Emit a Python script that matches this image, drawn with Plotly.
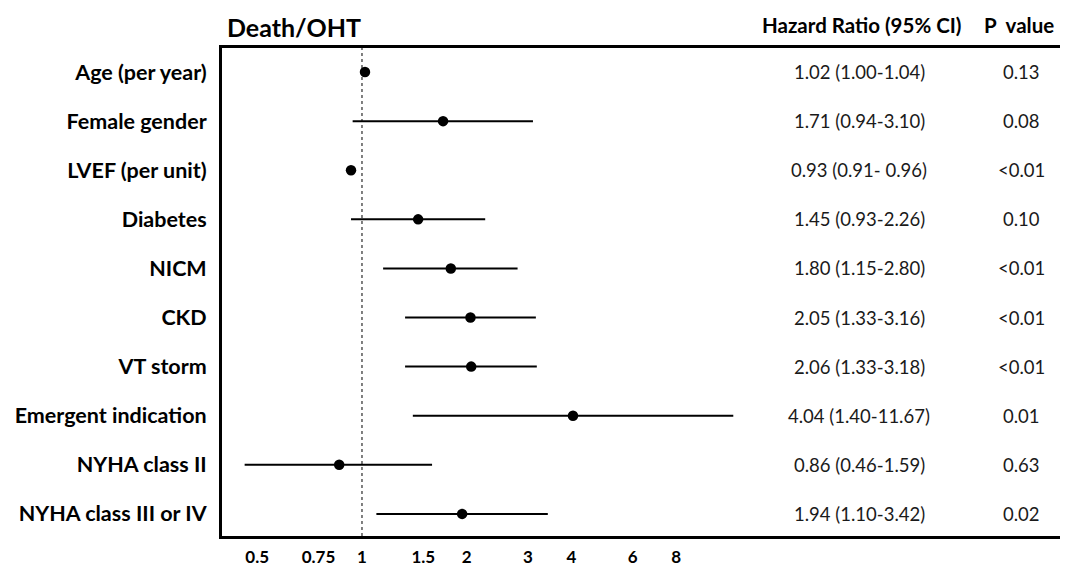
import math
import plotly.graph_objects as go

labels = ["Age (per year)", "Female gender", "LVEF (per unit)", "Diabetes", "NICM",
          "CKD", "VT storm", "Emergent indication", "NYHA class II", "NYHA class III or IV"]
hr = [1.02, 1.71, 0.93, 1.45, 1.80, 2.05, 2.06, 4.04, 0.86, 1.94]
lo = [1.00, 0.94, 0.91, 0.93, 1.15, 1.33, 1.33, 1.40, 0.46, 1.10]
hi = [1.04, 3.10, 0.96, 2.26, 2.80, 3.16, 3.18, 11.67, 1.59, 3.42]
hr_text = ["1.02 (1.00-1.04)", "1.71 (0.94-3.10)", "0.93 (0.91- 0.96)", "1.45 (0.93-2.26)",
           "1.80 (1.15-2.80)", "2.05 (1.33-3.16)", "2.06 (1.33-3.18)", "4.04 (1.40-11.67)",
           "0.86 (0.46-1.59)", "1.94 (1.10-3.42)"]
p_text = ["0.13", "0.08", "<0.01", "0.10", "<0.01", "<0.01", "<0.01", "0.01", "0.63", "0.02"]
tick_vals = [0.5, 0.75, 1, 1.5, 2, 3, 4, 6, 8]
tick_text = ["0.5", "0.75", "1", "1.5", "2", "3", "4", "6", "8"]

# page is rendered with an 8px body margin -> compensate
OFF = 8
PAGE_W, PAGE_H = 1068, 569
W, H = PAGE_W - OFF, PAGE_H - OFF
PLOT_L, PLOT_T, PLOT_B = 222, 48, 536  # page pixel positions of the frame
L, T, R = PLOT_L - OFF, PLOT_T - OFF, 0
B = H - (PLOT_B - OFF)
FONT = "Lato"

rows = list(range(len(labels)))
x_lo_log, x_hi_log = math.log10(0.396), 2.029


def px(page_x):
    return (page_x - PLOT_L) / (PAGE_W - PLOT_L)


fig = go.Figure()
fig.add_trace(go.Scatter(
    x=hr, y=rows, mode="markers",
    marker=dict(color="black", size=10.5),
    error_x=dict(type="data", symmetric=False,
                 array=[h - m for h, m in zip(hi, hr)],
                 arrayminus=[m - l for m, l in zip(hr, lo)],
                 width=0, thickness=2, color="black"),
    showlegend=False, hoverinfo="skip", cliponaxis=False,
))

# reference line at HR = 1
fig.add_shape(type="line", xref="x", yref="paper", x0=1, x1=1, y0=0, y1=1,
              line=dict(color="black", width=1, dash="dot"))

# table columns
for i in rows:
    fig.add_annotation(x=px(859), xref="paper", y=i, yref="y", text=hr_text[i],
                       showarrow=False, xanchor="center", yanchor="middle",
                       font=dict(family=FONT, size=18.5, color="#1a1a1a"))
    fig.add_annotation(x=px(1021), xref="paper", y=i, yref="y", text=p_text[i],
                       showarrow=False, xanchor="center", yanchor="middle",
                       font=dict(family=FONT, size=18.5, color="#1a1a1a"))

# headers
fig.add_annotation(x=px(225), xref="paper", y=1, yref="paper", yshift=4,
                   text="<b>Death/OHT</b>", showarrow=False, xanchor="left", yanchor="bottom",
                   font=dict(family=FONT, size=25, color="black"))
fig.add_annotation(x=px(861), xref="paper", y=1, yref="paper", yshift=9,
                   text="<b>Hazard Ratio (95% CI)</b>", showarrow=False, xanchor="center",
                   yanchor="bottom", font=dict(family=FONT, size=20.5, color="black"))
fig.add_annotation(x=px(1019), xref="paper", y=1, yref="paper", yshift=9,
                   text="<b>P&nbsp;&nbsp;value</b>", showarrow=False, xanchor="center",
                   yanchor="bottom", font=dict(family=FONT, size=20.5, color="black"))

fig.update_layout(
    width=W, height=H,
    margin=dict(l=L, r=R, t=T, b=B, pad=0, autoexpand=False),
    paper_bgcolor="white", plot_bgcolor="white",
    xaxis=dict(type="log", range=[x_lo_log, x_hi_log], tickvals=tick_vals, ticktext=tick_text,
               showgrid=False, zeroline=False, showline=True, mirror=True,
               linecolor="black", linewidth=3, ticks="", ticklabelstandoff=4,
               tickfont=dict(family=FONT, size=17, color="black", weight="bold")),
    yaxis=dict(range=[9.45, -0.49], tickvals=rows, ticktext=labels,
               showgrid=False, zeroline=False, showline=True, mirror=False,
               linecolor="black", linewidth=3, ticks="", ticklabelstandoff=8,
               tickfont=dict(family=FONT, size=21.5, color="black", weight="bold")),
)

fig.write_html("out.html")
